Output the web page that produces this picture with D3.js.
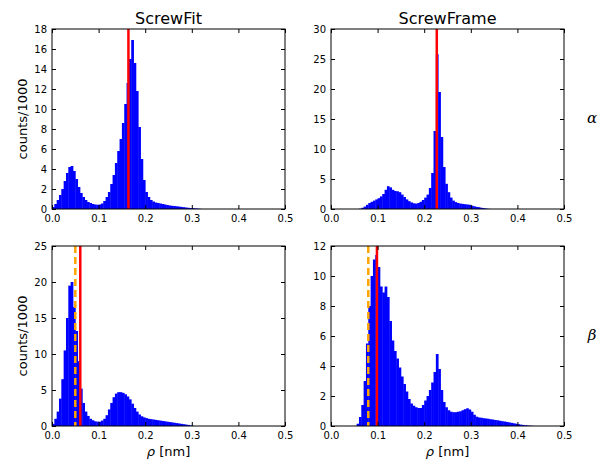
<!DOCTYPE html>
<html>
<head>
<meta charset="utf-8">
<script src="https://cdn.jsdelivr.net/npm/d3@7"></script>
<style>
  body { margin: 0; background: #fff; }
  svg text { font-family: "DejaVu Sans", sans-serif; }
</style>
</head>
<body>
<div id="chart"></div>
<script>
// Histogram data (counts/1000), bin width 0.005 nm, first bin start given separately
const binWidth = 0.005;

const fitAlphaStart = 0.0;
const fitAlpha = [0.2, 0.5, 0.9, 1.4, 2.0, 2.8, 3.6, 4.2, 4.3, 3.8, 3.0, 2.2, 1.6, 1.2, 0.9, 0.7,
  0.6, 0.5, 0.45, 0.42, 0.45, 0.55, 0.8, 1.2, 1.7, 2.5, 3.4, 4.6, 5.8, 7.0, 8.6, 10.5, 12.6, 15.0,
  16.9, 14.6, 11.8, 8.2, 5.0, 2.9, 1.7, 1.2, 0.9, 0.75, 0.65, 0.6, 0.55, 0.5, 0.45, 0.4, 0.35, 0.32,
  0.3, 0.27, 0.24, 0.21, 0.18, 0.15, 0.12, 0.1, 0.08, 0.06, 0.04, 0.02];

const frameAlphaStart = 0.06;
const frameAlpha = [0.05, 0.2, 0.4, 0.7, 1.0, 1.2, 1.4, 1.6, 1.8, 2.1, 2.5, 3.2, 3.8, 3.6, 3.2, 3.0,
  2.95, 2.8, 2.4, 2.0, 1.6, 1.3, 1.1, 0.95, 0.9, 1.0, 1.2, 1.5, 1.9, 2.4, 3.5, 6.0, 13.0, 25.8, 19.5,
  12.0, 7.0, 4.2, 2.8, 1.9, 1.4, 1.15, 1.0, 0.9, 0.85, 0.8, 0.75, 0.7, 0.55, 0.45, 0.35, 0.3, 0.2,
  0.15, 0.08, 0.03];

const fitBetaStart = 0.0;
const fitBeta = [0.3, 1.0, 2.0, 3.8, 6.5, 10.5, 15.0, 19.5, 20.0, 16.5, 13.2, 9.0, 5.2, 3.2, 2.0, 1.4,
  1.0, 0.8, 0.65, 0.6, 0.6, 0.75, 1.0, 1.5, 2.3, 3.2, 4.0, 4.5, 4.7, 4.7, 4.6, 4.4, 4.1, 3.7, 3.1,
  2.5, 2.0, 1.6, 1.35, 1.2, 1.1, 1.0, 0.95, 0.9, 0.85, 0.8, 0.75, 0.7, 0.65, 0.6, 0.55, 0.5, 0.45,
  0.4, 0.35, 0.3, 0.25, 0.2, 0.15, 0.08, 0.02];

const frameBetaStart = 0.055;
const frameBeta = [0.15, 0.6, 1.4, 3.0, 5.5, 8.0, 10.0, 11.1, 11.4, 10.6, 9.3, 8.9, 9.3, 8.6, 7.0, 5.7,
  5.0, 4.5, 3.9, 3.3, 2.8, 2.3, 1.8, 1.5, 1.35, 1.25, 1.2, 1.2, 1.4, 1.7, 2.0, 2.4, 2.9, 3.6, 4.8,
  3.8, 2.4, 1.6, 1.25, 1.05, 0.95, 0.92, 0.92, 0.95, 0.98, 1.05, 1.12, 1.18, 1.1, 0.95, 0.75, 0.62,
  0.57, 0.55, 0.52, 0.5, 0.48, 0.45, 0.43, 0.4, 0.38, 0.35, 0.32, 0.3, 0.27, 0.24, 0.21, 0.18, 0.15,
  0.12, 0.09, 0.07, 0.05, 0.03, 0.02, 0.01];

// Reference lines (rho in nm): red = mean, orange dashed = second estimate
const redLines = [0.164, 0.227, 0.0607, 0.0986];
const orangeLines = [null, null, 0.050, 0.080];

const titles = ['ScrewFit', 'ScrewFrame'];
const rowLabels = ['\u03b1', '\u03b2'];
const yMaxes = [18, 30, 25, 12];
const yTickSteps = [2, 5, 5, 2];
const xTicks = [0.0, 0.1, 0.2, 0.3, 0.4, 0.5];

const panels = [
  { data: fitAlpha, start: fitAlphaStart },
  { data: frameAlpha, start: frameAlphaStart },
  { data: fitBeta, start: fitBetaStart },
  { data: frameBeta, start: frameBetaStart }
];

const width = 606, height = 464;
const colLeft = [52, 331];
const rowTop = [29, 246];
const plotW = 233, plotH = 180;

const svg = d3.select('#chart').append('svg')
  .attr('width', width)
  .attr('height', height);

panels.forEach((p, i) => {
  const col = i % 2, row = Math.floor(i / 2);
  const g = svg.append('g')
    .attr('transform', `translate(${colLeft[col]},${rowTop[row]})`);

  const x = d3.scaleLinear().domain([0, 0.5]).range([0, plotW]);
  const y = d3.scaleLinear().domain([0, yMaxes[i]]).range([plotH, 0]);

  const bins = p.data.map((v, k) => ({ x0: p.start + k * binWidth, v }));

  // Bars (slightly widened so neighbouring bars leave no seams)
  g.selectAll('.bar')
    .data(bins)
    .enter()
    .append('rect')
    .attr('class', 'bar')
    .attr('x', d => x(d.x0))
    .attr('y', d => y(d.v))
    .attr('width', x(binWidth) - x(0) + 0.4)
    .attr('height', d => plotH - y(d.v))
    .attr('fill', '#0000ff');

  // Orange dashed line
  if (orangeLines[i] !== null) {
    g.append('line')
      .attr('x1', x(orangeLines[i])).attr('x2', x(orangeLines[i]))
      .attr('y1', 0).attr('y2', plotH)
      .attr('stroke', '#ffa500')
      .attr('stroke-width', 2.5)
      .attr('stroke-dasharray', '7,4');
  }

  // Red line
  g.append('line')
    .attr('x1', x(redLines[i])).attr('x2', x(redLines[i]))
    .attr('y1', 0).attr('y2', plotH)
    .attr('stroke', '#ff0000')
    .attr('stroke-width', 2.5);

  // Axes (inside ticks on all sides, matplotlib classic)
  const yTicks = d3.range(0, yMaxes[i] + 0.001, yTickSteps[i]);

  const xAxis = g.append('g')
    .attr('transform', `translate(0,${plotH})`)
    .call(d3.axisBottom(x).tickValues(xTicks).tickFormat(d3.format('.1f')).tickSizeInner(-4).tickSizeOuter(0).tickPadding(5.5));
  const xAxisTop = g.append('g')
    .call(d3.axisTop(x).tickValues(xTicks).tickFormat('').tickSizeInner(-4).tickSizeOuter(0));
  const yAxis = g.append('g')
    .call(d3.axisLeft(y).tickValues(yTicks).tickFormat(d3.format('d')).tickSizeInner(-4).tickSizeOuter(0).tickPadding(5));
  const yAxisRight = g.append('g')
    .attr('transform', `translate(${plotW},0)`)
    .call(d3.axisRight(y).tickValues(yTicks).tickFormat('').tickSizeInner(-4).tickSizeOuter(0));

  [xAxis, xAxisTop, yAxis, yAxisRight].forEach(a => {
    a.select('.domain').remove();
    a.selectAll('text')
      .attr('fill', '#000')
      .style('font-size', '10px');
  });

  // Frame
  g.append('rect')
    .attr('width', plotW)
    .attr('height', plotH)
    .attr('fill', 'none')
    .attr('stroke', '#000')
    .attr('stroke-width', 1);

  if (row === 0) {
    g.append('text')
      .attr('x', plotW / 2)
      .attr('y', -5)
      .attr('text-anchor', 'middle')
      .style('font-size', '16px')
      .text(titles[col]);
  } else {
    const lbl = g.append('text')
      .attr('x', plotW / 2)
      .attr('y', plotH + 29.5)
      .attr('text-anchor', 'middle')
      .style('font-size', '13px');
    lbl.append('tspan').style('font-style', 'italic').text('\u03c1');
    lbl.append('tspan').text(' [nm]');
  }

  if (col === 0) {
    g.append('text')
      .attr('transform', `translate(-25.5,${plotH / 2}) rotate(-90)`)
      .attr('text-anchor', 'middle')
      .style('font-size', '13px')
      .text('counts/1000');
  } else {
    g.append('text')
      .attr('x', plotW + 28)
      .attr('y', plotH / 2 + 4)
      .attr('text-anchor', 'middle')
      .style('font-family', '"DejaVu Serif", serif')
      .style('font-style', 'italic')
      .style('font-size', '15px')
      .text(rowLabels[row]);
  }
});
</script>
</body>
</html>
